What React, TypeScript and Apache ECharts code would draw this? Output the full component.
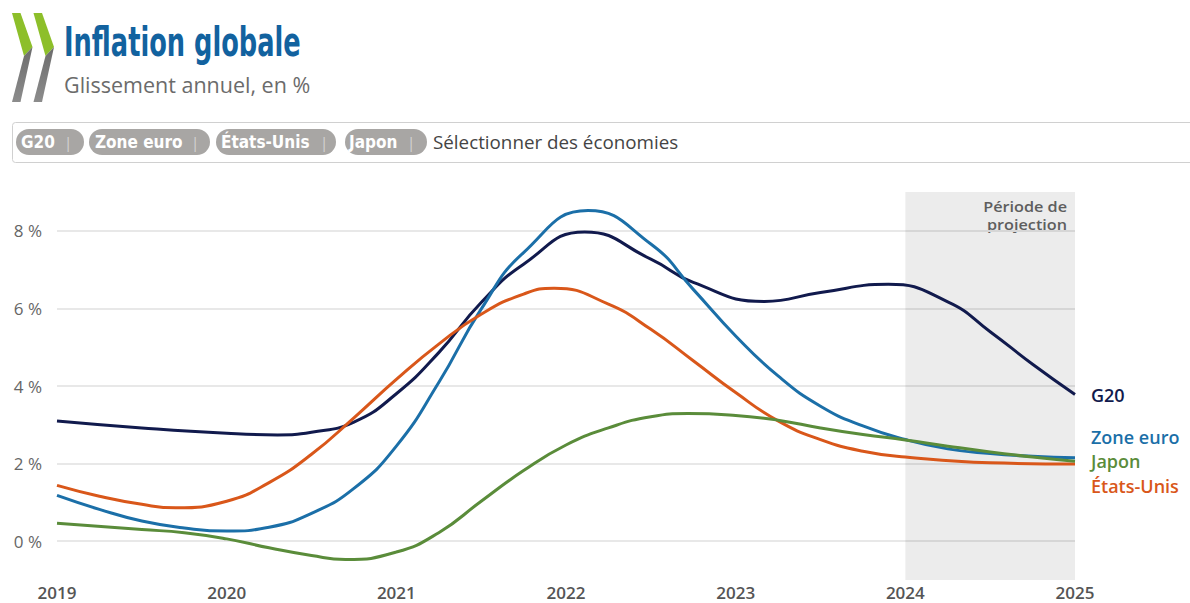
import React, { useEffect, useRef } from "react";
import * as echarts from "echarts";

// Each series: sample years (incl. turning points) and values (%)
const g20Years = [2019, 2019.5, 2020, 2020.3, 2020.5, 2020.75, 2021, 2021.25, 2021.5, 2021.75, 2022.11, 2022.5, 2022.75, 2023.17, 2023.5, 2023.9, 2024.25, 2024.5, 2024.75, 2025];
const g20Values = [3.1, 2.92, 2.78, 2.74, 2.81, 3.07, 3.8, 4.86, 6.15, 7.14, 7.97, 7.27, 6.67, 6.18, 6.41, 6.62, 6.17, 5.4, 4.56, 3.78];

const euroYears = [2019, 2019.25, 2019.5, 2019.75, 2020, 2020.25, 2020.5, 2020.75, 2021, 2021.25, 2021.5, 2021.75, 2022.13, 2022.5, 2022.75, 2023, 2023.25, 2023.5, 2023.75, 2024, 2024.25, 2024.5, 2024.75, 2025];
const euroValues = [1.18, 0.82, 0.52, 0.34, 0.26, 0.36, 0.72, 1.36, 2.45, 4.09, 5.98, 7.44, 8.52, 7.66, 6.49, 5.29, 4.26, 3.48, 2.97, 2.62, 2.38, 2.26, 2.19, 2.15];

const usYears = [2019, 2019.25, 2019.5, 2019.7, 2020, 2020.25, 2020.5, 2020.75, 2021, 2021.25, 2021.5, 2021.75, 2021.93, 2022.25, 2022.5, 2022.75, 2023, 2023.25, 2023.5, 2023.75, 2024, 2024.5, 2025];
const usValues = [1.44, 1.16, 0.95, 0.86, 1.03, 1.51, 2.24, 3.18, 4.17, 5.08, 5.85, 6.37, 6.52, 6.11, 5.46, 4.65, 3.83, 3.1, 2.62, 2.32, 2.17, 2.02, 1.99];

const japonYears = [2019, 2019.5, 2019.75, 2020, 2020.25, 2020.5, 2020.7, 2021, 2021.25, 2021.5, 2021.75, 2022, 2022.25, 2022.5, 2022.72, 2023, 2023.25, 2023.5, 2023.75, 2024, 2024.25, 2024.5, 2024.75, 2025];
const japonValues = [0.46, 0.3, 0.22, 0.06, -0.17, -0.37, -0.47, -0.28, 0.22, 1.03, 1.82, 2.48, 2.92, 3.21, 3.29, 3.24, 3.12, 2.92, 2.75, 2.61, 2.45, 2.3, 2.17, 2.06];

const seriesNames = ["G20", "Zone euro", "États-Unis", "Japon"];
const seriesColors = ["#111a4d", "#1b6fa8", "#d9571a", "#5a8c3a"];
const labelOffsets = [0, -21, 22, 0];
const projectionStart = 2024;
const projectionEnd = 2025;
const projectionLabel = "Période de\nprojection";
const chipLabels = ["G20", "Zone euro", "États-Unis", "Japon"];
const selectText = "Sélectionner des économies";
const titleText = "Inflation globale";
const subtitleText = "Glissement annuel, en %";

const NARROW = "'DejaVu Sans Condensed', 'Liberation Sans Narrow', sans-serif";
const SANS = "'Open Sans', 'Noto Sans', sans-serif";

function buildGraphic() {
  const els: any[] = [];
  const green = "#8dbf2a";
  [0, 21.5].forEach((dx) => {
    els.push({
      type: "polygon",
      shape: { points: [[12 + dx, 13], [20.5 + dx, 13], [32.5 + dx, 47], [24 + dx, 56]] },
      style: { fill: green },
    });
    els.push({
      type: "polygon",
      shape: { points: [[24 + dx, 56], [32.5 + dx, 47], [20.5 + dx, 102], [12 + dx, 102]] },
      style: {
        fill: new echarts.graphic.LinearGradient(0, 0, 0, 1, [
          { offset: 0, color: "#6c6c6c" },
          { offset: 1, color: "#8c8c8c" },
        ]),
      },
    });
  });
  els.push({
    type: "text",
    x: 64,
    y: 41,
    scaleX: 0.696,
    style: {
      text: titleText,
      fill: "#12629f",
      font: `bold 41px ${NARROW}`,
      verticalAlign: "middle",
    },
  });
  els.push({
    type: "text",
    x: 64,
    y: 84,
    style: {
      text: subtitleText,
      fill: "#6b6b6b",
      font: `21.5px ${SANS}`,
      verticalAlign: "middle",
    },
  });
  els.push({
    type: "rect",
    shape: { x: 12.5, y: 122.5, width: 1190, height: 40, r: 3 },
    style: { fill: "#fff", stroke: "#d0d0d0", lineWidth: 1 },
  });
  const chipBoxes = [
    [16, 84, 21, 64],
    [89, 210, 95, 191],
    [216, 336, 221, 320],
    [345, 427, 349, 407],
  ];
  chipLabels.forEach((lab, i) => {
    const [x0, x1, tx, sx] = chipBoxes[i];
    els.push({
      type: "rect",
      shape: { x: x0, y: 129, width: x1 - x0, height: 26, r: 13 },
      style: { fill: "#a8a6a4" },
    });
    els.push({
      type: "text",
      x: tx,
      y: 142,
      style: { text: lab, fill: "#fff", font: `bold 17px ${NARROW}`, verticalAlign: "middle" },
    });
    els.push({
      type: "text",
      x: sx,
      y: 142,
      style: { text: "|", fill: "#d4d4d4", font: `15px ${SANS}`, verticalAlign: "middle" },
    });
  });
  els.push({
    type: "text",
    x: 433,
    y: 142,
    style: { text: selectText, fill: "#444", font: `18.8px ${SANS}`, verticalAlign: "middle" },
  });
  els.push({
    type: "text",
    x: 1067,
    y: 215,
    scaleX: 1.08,
    style: {
      text: projectionLabel,
      fill: "#666",
      font: `600 15px ${SANS}`,
      lineHeight: 18,
      align: "right",
      verticalAlign: "middle",
    },
  });
  return els;
}

export default function App() {
  const ref = useRef<HTMLDivElement>(null);
  useEffect(() => {
    if (!ref.current) return;
    const chart = echarts.init(ref.current, null, { renderer: "svg" });
    const xs = [g20Years, euroYears, usYears, japonYears];
    const ys = [g20Values, euroValues, usValues, japonValues];
    const lineSeries = seriesNames.map((name, i) => ({
      name,
      type: "line",
      z: 3 + i,
      smooth: 0.5,
      symbol: "none",
      data: xs[i].map((x, k) => [x, ys[i][k]]),
      lineStyle: { color: seriesColors[i], width: 3 },
      itemStyle: { color: seriesColors[i] },
      endLabel: {
        show: true,
        formatter: name,
        color: seriesColors[i],
        fontSize: 18,
        fontWeight: 600,
        fontFamily: "Open Sans",
        distance: 16,
        offset: [0, labelOffsets[i]],
      },
    }));
    chart.setOption({
      animation: false,
      backgroundColor: "#fff",
      graphic: buildGraphic(),
      grid: { left: 57, right: 115, top: 192, bottom: 23, containLabel: false },
      xAxis: {
        type: "value",
        min: 2019,
        max: 2025,
        interval: 1,
        axisLine: { show: false },
        axisTick: { show: false },
        splitLine: { show: false },
        axisLabel: {
          formatter: (v: number) => String(v),
          color: "#555",
          fontSize: 17,
          fontWeight: 600,
          fontFamily: "Open Sans",
          lineHeight: 17,
          margin: 4,
        },
      },
      yAxis: {
        type: "value",
        min: -1,
        max: 9,
        interval: 1,
        axisLine: { show: false },
        axisTick: { show: false },
        splitLine: {
          show: true,
          showMinLine: true,
          showMaxLine: true,
          lineStyle: { color: ["rgba(0,0,0,0)", "#e8e8e8"], width: 2 },
        },
        axisLabel: {
          formatter: (v: number) => (Math.round(v) % 2 === 0 ? `${v} %` : ""),
          color: "#666",
          fontSize: 17,
          fontFamily: "Open Sans",
          margin: 15,
        },
      },
      series: [
        {
          name: "projection",
          type: "line",
          z: 1,
          data: [],
          markArea: {
            silent: true,
            itemStyle: { color: "rgba(0,0,0,0.075)" },
            label: { show: false },
            data: [[{ xAxis: projectionStart }, { xAxis: projectionEnd }]],
          },
        },
        ...lineSeries,
      ],
    });
    return () => chart.dispose();
  }, []);
  return (
    <div
      ref={ref}
      style={{ position: "fixed", left: 0, top: 0, width: 1190, height: 603 }}
    />
  );
}
